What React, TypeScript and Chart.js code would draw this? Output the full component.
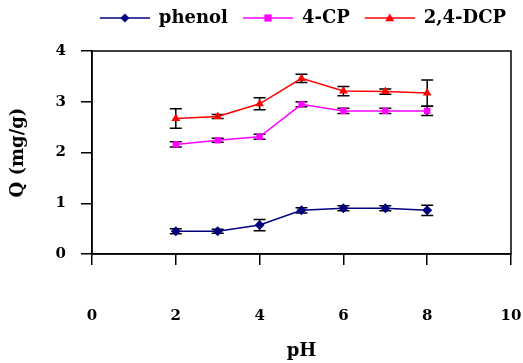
import React, { useEffect, useRef } from "react";
import { Chart, registerables } from "chart.js";
Chart.register(...registerables);

const pH = [2, 3, 4, 5, 6, 7, 8];
const phenol = [0.45, 0.45, 0.57, 0.86, 0.9, 0.9, 0.86];
const phenolErr = [0.05, 0.04, 0.11, 0.05, 0.05, 0.05, 0.1];
const cp = [2.16, 2.24, 2.31, 2.95, 2.82, 2.82, 2.82];
const cpErr = [0.05, 0.04, 0.05, 0.05, 0.05, 0.05, 0.09];
const dcp = [2.67, 2.71, 2.96, 3.46, 3.21, 3.2, 3.17];
const dcpErr = [0.19, 0.04, 0.12, 0.08, 0.09, 0.05, 0.26];
const seriesNames = ["phenol", "4-CP", "2,4-DCP"];
const seriesColors = ["#000080", "#ff00ff", "#ff0000"];
const seriesStyles = ["rectRot", "rect", "triangle"];
const xTicks = { min: 0, max: 10, step: 2 };
const yTicks = { min: 0, max: 4, step: 1 };

const FONT = "'DejaVu Serif', 'Liberation Serif', serif";

function drawMarker(ctx: CanvasRenderingContext2D, style: string, x: number, y: number, r: number) {
  ctx.beginPath();
  if (style === "rectRot") {
    ctx.moveTo(x, y - r);
    ctx.lineTo(x + r, y);
    ctx.lineTo(x, y + r);
    ctx.lineTo(x - r, y);
  } else if (style === "rect") {
    ctx.rect(x - r * 0.8, y - r * 0.8, r * 1.6, r * 1.6);
  } else {
    ctx.moveTo(x, y - r);
    ctx.lineTo(x + r, y + r * 0.7);
    ctx.lineTo(x - r, y + r * 0.7);
  }
  ctx.closePath();
  ctx.fill();
}

function makeIcon(color: string, style: string) {
  const c = document.createElement("canvas");
  c.width = 60;
  c.height = 12;
  const ctx = c.getContext("2d")!;
  ctx.strokeStyle = color;
  ctx.fillStyle = color;
  ctx.lineWidth = 1.5;
  ctx.beginPath();
  ctx.moveTo(10, 6);
  ctx.lineTo(60, 6);
  ctx.stroke();
  drawMarker(ctx, style, 35, 6, 4.5);
  return c;
}

const errorBars = {
  id: "errorBars",
  afterInit(chart: any) {
    const lg = chart.legend;
    if (lg) {
      const f = lg.fit.bind(lg);
      lg.fit = () => {
        f();
        lg.height = 47;
      };
    }
  },
  beforeDatasetsDraw(chart: any) {
    const ctx = chart.ctx;
    const xs = chart.scales.x;
    const ys = chart.scales.y;
    ctx.save();
    ctx.strokeStyle = "#000";
    ctx.lineWidth = 1.5;
    chart.data.datasets.forEach((ds: any) => {
      ds.data.forEach((pt: any, j: number) => {
        const e = ds.errors[j];
        const px = xs.getPixelForValue(pt.x);
        const t = ys.getPixelForValue(pt.y + e);
        const b = ys.getPixelForValue(pt.y - e);
        ctx.beginPath();
        ctx.moveTo(px, t);
        ctx.lineTo(px, b);
        ctx.moveTo(px - 6, t);
        ctx.lineTo(px + 6, t);
        ctx.moveTo(px - 6, b);
        ctx.lineTo(px + 6, b);
        ctx.stroke();
      });
    });
    ctx.restore();
  },
  afterDraw(chart: any) {
    const { left, top, right, bottom } = chart.chartArea;
    const ctx = chart.ctx;
    ctx.save();
    ctx.strokeStyle = "#000";
    ctx.lineWidth = 1.5;
    ctx.strokeRect(left, top, right - left, bottom - top);
    ctx.restore();
  },
};

export default function App() {
  const ref = useRef<HTMLCanvasElement>(null);
  useEffect(() => {
    const values = [phenol, cp, dcp];
    const errs = [phenolErr, cpErr, dcpErr];
    const chart = new Chart(ref.current!, {
      type: "line",
      data: {
        datasets: values.map((v, i) => ({
          label: seriesNames[i],
          data: pH.map((x, j) => ({ x, y: v[j] })),
          errors: errs[i],
          borderColor: seriesColors[i],
          backgroundColor: seriesColors[i],
          borderWidth: 1.5,
          pointStyle: seriesStyles[i],
          pointRadius: i === 1 ? 4.5 : 5,
          pointBorderWidth: 0,
          tension: 0,
        })) as any,
      },
      options: {
        animation: false,
        responsive: false,
        layout: { padding: { left: 0, right: 12, top: 4, bottom: 0 } },
        plugins: {
          tooltip: { enabled: false },
          legend: {
            position: "top",
            align: "end",
            labels: {
              usePointStyle: true,
              pointStyleWidth: 60,
              padding: 5,
              color: "#000",
              font: { family: FONT, size: 18, weight: "bold" },
              generateLabels: () =>
                seriesNames.map((n, i) => ({
                  text: n,
                  pointStyle: makeIcon(seriesColors[i], seriesStyles[i]),
                  fillStyle: seriesColors[i],
                  strokeStyle: seriesColors[i],
                  lineWidth: 0,
                  datasetIndex: i,
                  hidden: false,
                })) as any,
            },
          },
        },
        scales: {
          x: {
            type: "linear",
            min: xTicks.min,
            max: xTicks.max,
            afterFit: (s: any) => {
              s.height = 109;
              s.paddingLeft = 0;
              s.paddingRight = 0;
            },
            ticks: {
              stepSize: xTicks.step,
              color: "#000",
              padding: 42,
              font: { family: FONT, size: 15, weight: "bold" },
            },
            grid: { drawOnChartArea: false, drawTicks: true, tickLength: 11, color: "#000", lineWidth: 1.5 },
            border: { display: true, color: "#000", width: 1.5 },
            title: {
              display: true,
              text: "pH",
              color: "#000",
              padding: { top: 0, bottom: 1 },
              font: { family: FONT, size: 18, weight: "bold" },
            },
          },
          y: {
            type: "linear",
            min: yTicks.min,
            max: yTicks.max,
            afterFit: (s: any) => {
              s.width = 92;
              s.paddingTop = 0;
              s.paddingBottom = 0;
            },
            ticks: {
              stepSize: yTicks.step,
              color: "#000",
              padding: 15,
              font: { family: FONT, size: 15, weight: "bold" },
            },
            grid: { drawOnChartArea: false, drawTicks: true, tickLength: 11, color: "#000", lineWidth: 1.5 },
            border: { display: true, color: "#000", width: 1.5 },
            title: {
              display: true,
              text: "Q (mg/g)",
              color: "#000",
              padding: { top: 8, bottom: 0 },
              font: { family: FONT, size: 18, weight: "bold" },
            },
          },
        },
      },
      plugins: [errorBars],
    } as any);
    return () => chart.destroy();
  }, []);
  return (
    <div style={{ position: "absolute", left: 0, top: 0, width: 523, height: 363, background: "#fff" }}>
      <canvas ref={ref} width={523} height={363} />
    </div>
  );
}
